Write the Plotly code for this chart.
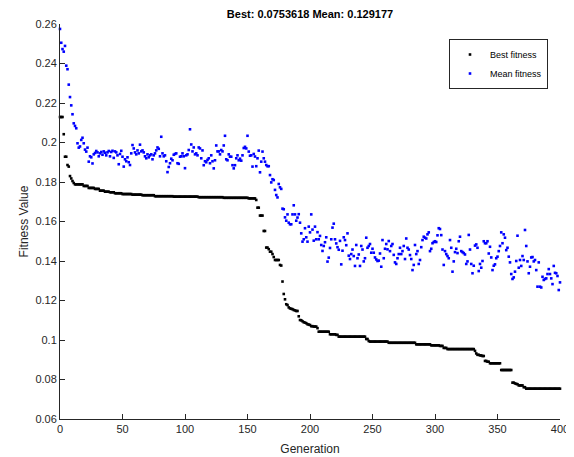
import plotly.graph_objects as go

generations = list(range(0, 401))

best_fitness = [
    # 0-9
    0.2129, 0.2129, 0.2129, 0.2042, 0.1928, 0.1928, 0.1886, 0.1878, 0.1830, 0.1818,
    # 10-19
    0.1805, 0.1795, 0.1788, 0.1788, 0.1788, 0.1788, 0.1788, 0.1788, 0.1788, 0.1780,
    # 20-29
    0.1780, 0.1780, 0.1780, 0.1770, 0.1770, 0.1770, 0.1770, 0.1770, 0.1765, 0.1765,
    # 30-39
    0.1765, 0.1765, 0.1756, 0.1756, 0.1756, 0.1756, 0.1751, 0.1751, 0.1751, 0.1751,
    # 40-49
    0.1748, 0.1748, 0.1748, 0.1748, 0.1743, 0.1743, 0.1743, 0.1743, 0.1743, 0.1743,
    # 50-59
    0.1739, 0.1739, 0.1739, 0.1739, 0.1739, 0.1739, 0.1739, 0.1739, 0.1736, 0.1736,
    # 60-69
    0.1736, 0.1736, 0.1736, 0.1736, 0.1736, 0.1736, 0.1733, 0.1733, 0.1733, 0.1733,
    # 70-79
    0.1733, 0.1733, 0.1733, 0.1733, 0.1733, 0.1733, 0.1728, 0.1728, 0.1728, 0.1728,
    # 80-89
    0.1728, 0.1728, 0.1728, 0.1728, 0.1728, 0.1728, 0.1728, 0.1728, 0.1728, 0.1728,
    # 90-99
    0.1728, 0.1726, 0.1726, 0.1726, 0.1726, 0.1726, 0.1726, 0.1726, 0.1726, 0.1726,
    # 100-109
    0.1726, 0.1726, 0.1726, 0.1726, 0.1726, 0.1726, 0.1726, 0.1726, 0.1726, 0.1726,
    # 110-119
    0.1726, 0.1723, 0.1723, 0.1723, 0.1723, 0.1723, 0.1723, 0.1723, 0.1723, 0.1723,
    # 120-129
    0.1723, 0.1723, 0.1723, 0.1723, 0.1723, 0.1723, 0.1723, 0.1723, 0.1723, 0.1723,
    # 130-139
    0.1723, 0.1720, 0.1720, 0.1720, 0.1720, 0.1720, 0.1720, 0.1720, 0.1720, 0.1720,
    # 140-149
    0.1720, 0.1720, 0.1720, 0.1720, 0.1720, 0.1720, 0.1720, 0.1720, 0.1720, 0.1720,
    # 150-159
    0.1720, 0.1717, 0.1717, 0.1717, 0.1717, 0.1717, 0.1717, 0.1709, 0.1670, 0.1670,
    # 160-169
    0.1630, 0.1630, 0.1630, 0.1552, 0.1552, 0.1468, 0.1468, 0.1460, 0.1447, 0.1447,
    # 170-179
    0.1435, 0.1420, 0.1405, 0.1405, 0.1405, 0.1405, 0.1380, 0.1377, 0.1296, 0.1233,
    # 180-189
    0.1206, 0.1181, 0.1177, 0.1165, 0.1160, 0.1158, 0.1156, 0.1152, 0.1150, 0.1147,
    # 190-199
    0.1147, 0.1120, 0.1101, 0.1100, 0.1095, 0.1090, 0.1088, 0.1085, 0.1080, 0.1078,
    # 200-209
    0.1076, 0.1070, 0.1070, 0.1068, 0.1068, 0.1068, 0.1060, 0.1042, 0.1042, 0.1042,
    # 210-219
    0.1042, 0.1042, 0.1042, 0.1042, 0.1042, 0.1042, 0.1029, 0.1029, 0.1029, 0.1029,
    # 220-229
    0.1029, 0.1026, 0.1026, 0.1017, 0.1017, 0.1017, 0.1017, 0.1017, 0.1017, 0.1017,
    # 230-239
    0.1017, 0.1017, 0.1017, 0.1017, 0.1017, 0.1017, 0.1017, 0.1017, 0.1017, 0.1017,
    # 240-249
    0.1017, 0.1017, 0.1017, 0.1017, 0.1017, 0.1005, 0.1005, 0.0995, 0.0992, 0.0992,
    # 250-259
    0.0992, 0.0992, 0.0992, 0.0992, 0.0992, 0.0992, 0.0992, 0.0992, 0.0992, 0.0992,
    # 260-269
    0.0992, 0.0992, 0.0992, 0.0986, 0.0986, 0.0986, 0.0986, 0.0986, 0.0986, 0.0986,
    # 270-279
    0.0986, 0.0986, 0.0986, 0.0986, 0.0986, 0.0986, 0.0986, 0.0986, 0.0986, 0.0986,
    # 280-289
    0.0986, 0.0986, 0.0986, 0.0986, 0.0986, 0.0978, 0.0978, 0.0978, 0.0978, 0.0978,
    # 290-299
    0.0978, 0.0978, 0.0978, 0.0978, 0.0978, 0.0978, 0.0978, 0.0973, 0.0973, 0.0973,
    # 300-309
    0.0973, 0.0973, 0.0973, 0.0973, 0.0970, 0.0970, 0.0970, 0.0960, 0.0960, 0.0960,
    # 310-319
    0.0954, 0.0954, 0.0954, 0.0954, 0.0954, 0.0954, 0.0954, 0.0954, 0.0954, 0.0954,
    # 320-329
    0.0954, 0.0954, 0.0954, 0.0954, 0.0954, 0.0954, 0.0954, 0.0954, 0.0954, 0.0954,
    # 330-339
    0.0954, 0.0954, 0.0945, 0.0932, 0.0925, 0.0925, 0.0922, 0.0922, 0.0919, 0.0919,
    # 340-349
    0.0894, 0.0894, 0.0890, 0.0890, 0.0882, 0.0882, 0.0882, 0.0882, 0.0882, 0.0882,
    # 350-359
    0.0882, 0.0882, 0.0882, 0.0848, 0.0848, 0.0848, 0.0848, 0.0848, 0.0848, 0.0848,
    # 360-369
    0.0848, 0.0848, 0.0784, 0.0784, 0.0780, 0.0778, 0.0776, 0.0770, 0.0770, 0.0770,
    # 370-379
    0.0770, 0.0761, 0.0761, 0.0753618, 0.0753618, 0.0753618, 0.0753618, 0.0753618, 0.0753618, 0.0753618,
    # 380-389
    0.0753618, 0.0753618, 0.0753618, 0.0753618, 0.0753618, 0.0753618, 0.0753618, 0.0753618, 0.0753618, 0.0753618,
    # 390-399
    0.0753618, 0.0753618, 0.0753618, 0.0753618, 0.0753618, 0.0753618, 0.0753618, 0.0753618, 0.0753618, 0.0753618,
    # 400
    0.0753618,
]

mean_fitness = [
    # 0-9
    0.2575, 0.2505, 0.2473, 0.2460, 0.2489, 0.2389, 0.2371, 0.2293, 0.2230, 0.2188,
    # 10-19
    0.2143, 0.2097, 0.2084, 0.2072, 0.1996, 0.1974, 0.1980, 0.2013, 0.2024, 0.1996,
    # 20-29
    0.1964, 0.1954, 0.1974, 0.1903, 0.1930, 0.1925, 0.1894, 0.1940, 0.1947, 0.1957,
    # 30-39
    0.1950, 0.1930, 0.1945, 0.1952, 0.1938, 0.1955, 0.1948, 0.1935, 0.1950, 0.1957,
    # 40-49
    0.1930, 0.1952, 0.1958, 0.1922, 0.1955, 0.1950, 0.1935, 0.1890, 0.1942, 0.1958,
    # 50-59
    0.1928, 0.1878, 0.1915, 0.1905, 0.1925, 0.1900, 0.1886, 0.1945, 0.1987, 0.1970,
    # 60-69
    0.1950, 0.1940, 0.1960, 0.1945, 0.1989, 0.1955, 0.1960, 0.1950, 0.1930, 0.1920,
    # 70-79
    0.1940, 0.1925, 0.1935, 0.1940, 0.1915, 0.1935, 0.1945, 0.1960, 0.1975, 0.1968,
    # 80-89
    0.1930, 0.2029, 0.1945, 0.1930, 0.1935, 0.1905, 0.1850, 0.1876, 0.1895, 0.1918,
    # 90-99
    0.1910, 0.1938, 0.1942, 0.1945, 0.1895, 0.1892, 0.1928, 0.1930, 0.1945, 0.1930,
    # 100-109
    0.1870, 0.1935, 0.1940, 0.1962, 0.2067, 0.1990, 0.1955, 0.1975, 0.1940, 0.1945,
    # 110-119
    0.1935, 0.1975, 0.1970, 0.1920, 0.1960, 0.1885, 0.1905, 0.1900, 0.1912, 0.1920,
    # 120-129
    0.1895, 0.1935, 0.1905, 0.1869, 0.1910, 0.1985, 0.1955, 0.1955, 0.1940, 0.1962,
    # 130-139
    0.1955, 0.1985, 0.2034, 0.1915, 0.1910, 0.1940, 0.1928, 0.1928, 0.1885, 0.1869,
    # 140-149
    0.1885, 0.1920, 0.1935, 0.1910, 0.1918, 0.1908, 0.1935, 0.1972, 0.1978, 0.1970,
    # 150-159
    0.2034, 0.1954, 0.1933, 0.1935, 0.1878, 0.1942, 0.1929, 0.1880, 0.1920, 0.1959,
    # 160-169
    0.1849, 0.1903, 0.1954, 0.1920, 0.1903, 0.1886, 0.1880, 0.1880, 0.1835, 0.1798,
    # 170-179
    0.1814, 0.1810, 0.1760, 0.1734, 0.1722, 0.1790, 0.1773, 0.1765, 0.1665, 0.1662,
    # 180-189
    0.1621, 0.1604, 0.1636, 0.1594, 0.1586, 0.1586, 0.1636, 0.1682, 0.1636, 0.1604,
    # 190-199
    0.1620, 0.1637, 0.1594, 0.1540, 0.1498, 0.1510, 0.1566, 0.1520, 0.1498, 0.1574,
    # 200-209
    0.1545, 0.1636, 0.1559, 0.1503, 0.1574, 0.1510, 0.1546, 0.1510, 0.1527, 0.1481,
    # 210-219
    0.1451, 0.1476, 0.1495, 0.1520, 0.1397, 0.1417, 0.1466, 0.1510, 0.1569, 0.1589,
    # 220-229
    0.1510, 0.1489, 0.1470, 0.1457, 0.1502, 0.1383, 0.1452, 0.1520, 0.1506, 0.1480,
    # 230-239
    0.1540, 0.1427, 0.1410, 0.1435, 0.1458, 0.1425, 0.1375, 0.1481, 0.1414, 0.1433,
    # 240-249
    0.1375, 0.1476, 0.1458, 0.1398, 0.1414, 0.1518, 0.1467, 0.1476, 0.1486, 0.1442,
    # 250-259
    0.1462, 0.1442, 0.1418, 0.1408, 0.1400, 0.1402, 0.1438, 0.1371, 0.1506, 0.1414,
    # 260-269
    0.1462, 0.1486, 0.1459, 0.1501, 0.1450, 0.1476, 0.1486, 0.1431, 0.1393, 0.1385,
    # 270-279
    0.1414, 0.1435, 0.1467, 0.1435, 0.1450, 0.1476, 0.1410, 0.1514, 0.1467, 0.1458,
    # 280-289
    0.1430, 0.1410, 0.1354, 0.1380, 0.1481, 0.1435, 0.1450, 0.1385, 0.1405, 0.1470,
    # 290-299
    0.1506, 0.1523, 0.1518, 0.1514, 0.1535, 0.1545, 0.1450, 0.1462, 0.1490, 0.1496,
    # 300-309
    0.1500, 0.1496, 0.1530, 0.1566, 0.1562, 0.1531, 0.1458, 0.1380, 0.1450, 0.1435,
    # 310-319
    0.1425, 0.1414, 0.1506, 0.1467, 0.1346, 0.1398, 0.1445, 0.1462, 0.1440, 0.1500,
    # 320-329
    0.1523, 0.1450, 0.1445, 0.1440, 0.1433, 0.1385, 0.1398, 0.1532, 0.1458, 0.1385,
    # 330-339
    0.1338, 0.1376, 0.1478, 0.1484, 0.1467, 0.1349, 0.1385, 0.1366, 0.1400, 0.1500,
    # 340-349
    0.1490, 0.1490, 0.1500, 0.1438, 0.1472, 0.1418, 0.1354, 0.1376, 0.1383, 0.1414,
    # 350-359
    0.1422, 0.1450, 0.1476, 0.1545, 0.1490, 0.1535, 0.1518, 0.1455, 0.1467, 0.1422,
    # 360-369
    0.1393, 0.1334, 0.1309, 0.1317, 0.1346, 0.1400, 0.1528, 0.1366, 0.1405, 0.1375,
    # 370-379
    0.1425, 0.1405, 0.1557, 0.1476, 0.1398, 0.1338, 0.1371, 0.1418, 0.1420, 0.1398,
    # 380-389
    0.1405, 0.1354, 0.1270, 0.1393, 0.1270, 0.1266, 0.1320, 0.1304, 0.1309, 0.1312,
    # 390-399
    0.1334, 0.1359, 0.1334, 0.1312, 0.1283, 0.1375, 0.1340, 0.1338, 0.1324, 0.1253,
    # 400
    0.129177,
]

x_tick_vals = [0, 50, 100, 150, 200, 250, 300, 350, 400]
y_tick_vals = [0.06, 0.08, 0.1, 0.12, 0.14, 0.16, 0.18, 0.2, 0.22, 0.24, 0.26]
y_tick_text = ["0.06", "0.08", "0.1", "0.12", "0.14", "0.16", "0.18", "0.2", "0.22", "0.24", "0.26"]

title_text = "Best: 0.0753618 Mean: 0.129177"
AX = "#262626"
FONT = "Liberation Sans, Arial, sans-serif"

# The page body has an 8px default margin, so the figure is 8px smaller.
W, H = 566, 449

fig = go.Figure()
fig.add_trace(go.Scatter(
    x=generations, y=best_fitness, mode="markers", name="Best fitness",
    marker=dict(color="#000000", size=2.6, symbol="square", line=dict(width=0)),
    cliponaxis=False,
))
fig.add_trace(go.Scatter(
    x=generations, y=mean_fitness, mode="markers", name="Mean fitness",
    marker=dict(color="#0000ff", size=2.6, symbol="square", line=dict(width=0)),
    cliponaxis=False,
))

fig.update_layout(
    width=W, height=H,
    margin=dict(l=52, r=14, t=16, b=38, autoexpand=False),
    paper_bgcolor="white", plot_bgcolor="white",
    font=dict(family=FONT, color=AX, size=11),
    title=dict(text="<b>" + title_text + "</b>", x=302 / W, xanchor="center",
               y=1 - 6 / H, yanchor="middle", yref="container",
               font=dict(family=FONT, size=11, color="#000000"), automargin=False),
    showlegend=True,
    legend=dict(x=0.976, xanchor="right", y=0.962, yanchor="top",
                bgcolor="white", bordercolor=AX, borderwidth=1,
                font=dict(family=FONT, size=9, color="#000000"),
                itemwidth=30, tracegroupgap=0),
)
fig.update_xaxes(
    range=[0, 400], tickvals=x_tick_vals, showgrid=False, zeroline=False,
    showline=True, linecolor=AX, linewidth=1, mirror=False, automargin=False,
    ticks="inside", ticklen=5, tickcolor=AX, tickwidth=1,
    tickfont=dict(family=FONT, size=11, color=AX),
    title=dict(text="Generation", font=dict(family=FONT, size=12, color=AX), standoff=10),
)
fig.update_yaxes(
    range=[0.06, 0.26], tickvals=y_tick_vals, ticktext=y_tick_text,
    showgrid=False, zeroline=False, automargin=False,
    showline=True, linecolor=AX, linewidth=1, mirror=False,
    ticks="inside", ticklen=5, tickcolor=AX, tickwidth=1,
    tickfont=dict(family=FONT, size=11, color=AX),
    title=dict(text="Fitness Value", font=dict(family=FONT, size=12, color=AX), standoff=4),
)

fig.write_html("out.html")
